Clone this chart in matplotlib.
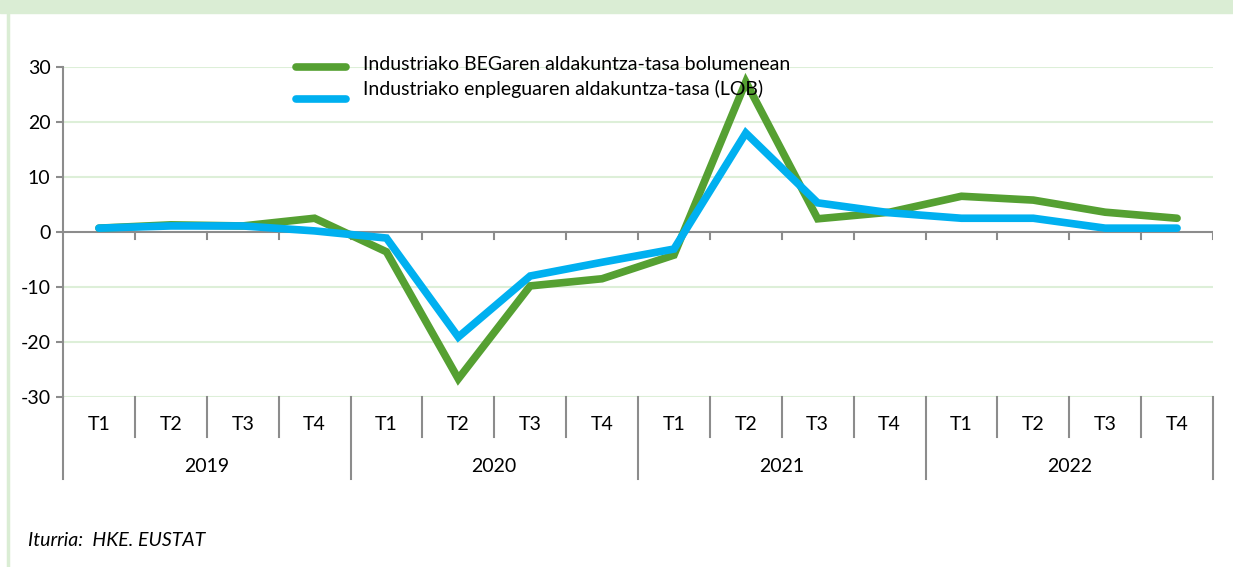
import matplotlib.pyplot as plt
import matplotlib.transforms as mtransforms
from matplotlib.patches import Rectangle
from matplotlib.lines import Line2D

plt.rcParams['font.family'] = ['Lato', 'DejaVu Sans']

years = ['2019', '2020', '2021', '2022']
quarters = ['T1', 'T2', 'T3', 'T4']

# Industriako BEGaren aldakuntza-tasa bolumenean
beg = [0.7, 1.3, 1.1, 2.5,
       -3.6, -26.7, -9.8, -8.5,
       -4.2, 27.3, 2.4, 3.6,
       6.5, 5.8, 3.6, 2.5]
# Industriako enpleguaren aldakuntza-tasa (LOB)
lob = [0.7, 1.1, 1.1, 0.2,
       -1.1, -19.1, -8.0, -5.5,
       -3.1, 18.0, 5.3, 3.5,
       2.5, 2.5, 0.7, 0.7]

label_beg = 'Industriako BEGaren aldakuntza-tasa bolumenean'
label_lob = 'Industriako enpleguaren aldakuntza-tasa (LOB)'

green = '#55A032'
blue = '#00B0F0'
grid_col = '#DDEFD8'
axis_col = '#8C8C8C'
fs = 14

W, H = 1233.0, 567.0
fig = plt.figure(figsize=(12.33, 5.67), dpi=100)

# top band and left border
fig.patches.append(Rectangle((0, 1 - 13 / H), 1, 13 / H, transform=fig.transFigure,
                             color='#DAEDD4', zorder=0))
fig.lines.append(Line2D([8 / W, 8 / W], [0, 1 - 13 / H], transform=fig.transFigure,
                        color='#DAEDD4', lw=2.5))

ax = fig.add_axes([63 / W, 1 - 397 / H, 1150 / W, 330 / H])
n = len(beg)
x = list(range(n))
ax.set_xlim(-0.5, n - 0.5)
ax.set_ylim(-30, 30)
ax.set_yticks([-30, -20, -10, 0, 10, 20, 30])
ax.set_yticklabels(['-30', '-20', '-10', '0', '10', '20', '30'], fontsize=fs)
for v in [-30, -20, -10, 10, 20, 30]:
    ax.axhline(v, color=grid_col, lw=1.5, zorder=0)

for s in ['top', 'right', 'bottom']:
    ax.spines[s].set_visible(False)
ax.spines['left'].set_color(axis_col)
ax.spines['left'].set_linewidth(1.5)
ax.tick_params(axis='y', length=5, width=1.5, color=axis_col, pad=4)
ax.set_xticks([])

# zero axis with category ticks
ax.axhline(0, color=axis_col, lw=1.5, zorder=1)
for b in range(1, n + 1):
    ax.plot([b - 0.5, b - 0.5], [0, -1.2], color=axis_col, lw=1.5, zorder=1)

ax.plot(x, beg, color=green, lw=5.5, solid_capstyle='round', solid_joinstyle='miter',
        zorder=3)
ax.plot(x, lob, color=blue, lw=5.5, solid_capstyle='round', solid_joinstyle='miter',
        zorder=3)

# category axis below the plot
trans = mtransforms.blended_transform_factory(ax.transData, ax.transAxes)
h = 330.0
for i in range(n):
    ax.text(i, -(424 - 397) / h, quarters[i % 4], transform=trans, ha='center', va='center',
            fontsize=fs)
for b in range(n + 1):
    bot = 479 if b % 4 == 0 else 437
    ax.plot([b - 0.5, b - 0.5], [0, -(bot - 397) / h], transform=trans, color=axis_col,
            lw=1.5, clip_on=False)
for j, yr in enumerate(years):
    ax.text(4 * j + 1.5, -(466 - 397) / h, yr, transform=trans, ha='center', va='center',
            fontsize=fs)

# legend (Excel-like: samples sit a bit offset from their labels)
for col, ly, txt, ty in [(green, 67, label_beg, 64), (blue, 99, label_lob, 89)]:
    fig.lines.append(Line2D([296 / W, 346 / W], [1 - ly / H, 1 - ly / H],
                            transform=fig.transFigure, color=col, lw=5.5,
                            solid_capstyle='round'))
    fig.text(363 / W, 1 - ty / H, txt, fontsize=fs, va='center', ha='left')

fig.text(28 / W, 1 - 541 / H, 'Iturria:  HKE. EUSTAT', fontsize=14, style='italic',
         va='center')

fig.savefig('out.png', dpi=100)
